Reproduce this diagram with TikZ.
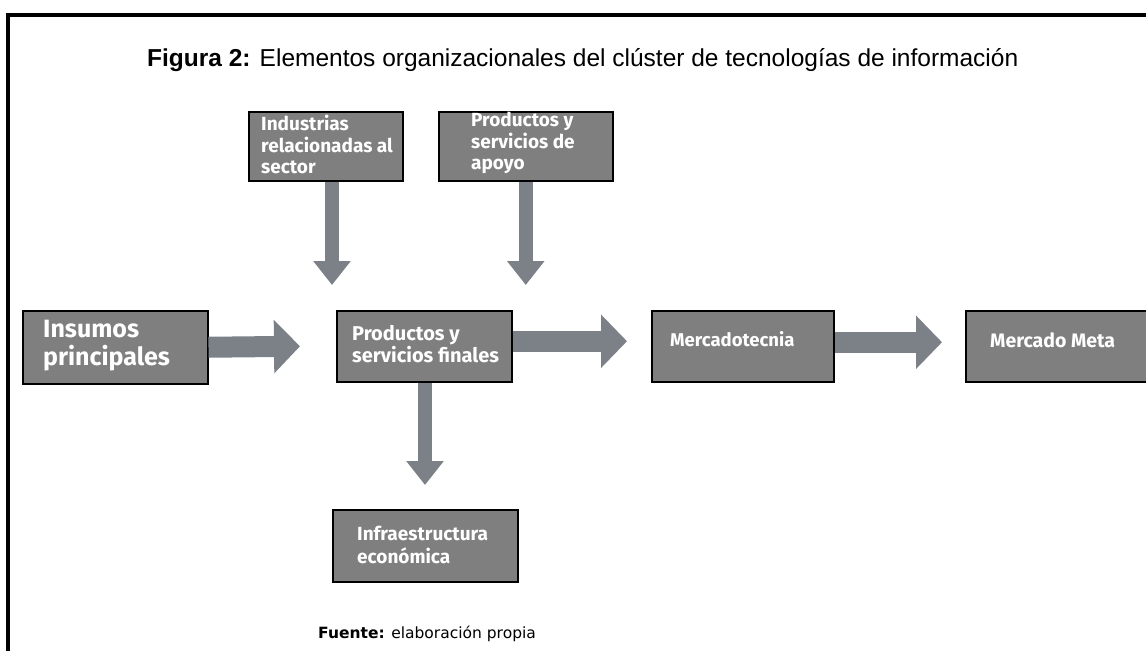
\documentclass[tikz,border=0pt]{standalone}
\usepackage{fontspec}
\setmainfont{Liberation Sans}
\newfontfamily\boxfont{Fira Sans}
\newfontfamily\srcfont{DejaVu Sans}
\usetikzlibrary{calc,arrows.meta}
\definecolor{boxgray}{HTML}{7F7F7F}
\definecolor{arrgray}{HTML}{7C8188}
\tikzset{
  box/.style={draw=black, line width=1.5pt, fill=boxgray, anchor=north west, inner sep=0pt},
  btxt/.style={anchor=north west, align=left, text=white, inner sep=0pt, font=\boxfont\bfseries},
  harrow/.style={draw=arrgray, line width=21pt, -{Triangle[width=52pt,length=26pt]}},
  varrow/.style={draw=arrgray, line width=14pt, -{Triangle[width=36pt,length=24pt]}},
}
\begin{document}
\begin{tikzpicture}[x=1pt,y=-1pt]
\useasboundingbox (0,0) rectangle (1146,651);
\fill[white] (0,0) rectangle (1146,651);
% frame
\draw[line width=4pt] (8,651) -- (8,15) -- (1146,15);
% title
\node[anchor=west, inner sep=0pt, font=\fontsize{24.5}{28}\selectfont] (title) at (147,60) {\textbf{Figura 2:} Elementos organizacionales del clúster de tecnologías de información};
% boxes
\node[box, minimum width=185, minimum height=73] (ins) at (22,310) {};
\node[box, minimum width=175, minimum height=71] (fin) at (336,310) {};
\node[box, minimum width=182, minimum height=71] (mer) at (651,310) {};
\node[box, minimum width=190, minimum height=71] (meta) at (965,310) {};
\node[box, minimum width=154, minimum height=69] (ind) at (248,111) {};
\node[box, minimum width=174, minimum height=69] (apo) at (438,111) {};
\node[box, minimum width=185, minimum height=72] (inf) at (332,509) {};
% box texts
\node[btxt, font=\boxfont\bfseries\fontsize{25}{28}\selectfont] (tins) at (43,320) {Insumos\\principales};
\node[btxt, font=\boxfont\bfseries\fontsize{20}{22}\selectfont] (tfin) at (352,325) {Productos y\\servicios finales};
\node[btxt, font=\boxfont\bfseries\fontsize{18.5}{20}\selectfont] (tmer) at (670,331) {Mercadotecnia};
\node[btxt, font=\boxfont\bfseries\fontsize{19.5}{20}\selectfont] (tmeta) at (990,332) {Mercado Meta};
\node[btxt, font=\boxfont\bfseries\fontsize{19}{21.5}\selectfont] (tind) at (261,115) {Industrias\\relacionadas al\\sector};
\node[btxt, font=\boxfont\bfseries\fontsize{19}{21.5}\selectfont] (tapo) at (471,112) {Productos y\\servicios de\\apoyo};
\node[btxt, font=\boxfont\bfseries\fontsize{19}{23}\selectfont] (tinf) at (357,526) {Infraestructura\\económica};
% arrows
\draw[harrow] (ins.east) -- ($(fin.west)+(-36,0)$);
\draw[harrow] ($(fin.east)+(0,-5)$) -- ($(mer.west)+(-24,-5)$);
\draw[harrow] ($(mer.east)+(0,-4)$) -- ($(meta.west)+(-23,-4)$);
\draw[varrow] (ind.south -| 332,0) -- ($(fin.north -| 332,0)+(0,-25)$);
\draw[varrow] (apo.south) -- ($(fin.north -| apo.south)+(0,-25)$);
\draw[varrow] (fin.south -| 425,0) -- ($(inf.north -| 425,0)+(0,-24)$);
% source
\node[anchor=west, inner sep=0pt, font=\srcfont\fontsize{15.5}{18}\selectfont] (src) at (318,634) {\textbf{Fuente:} elaboración propia};
\end{tikzpicture}
\end{document}
